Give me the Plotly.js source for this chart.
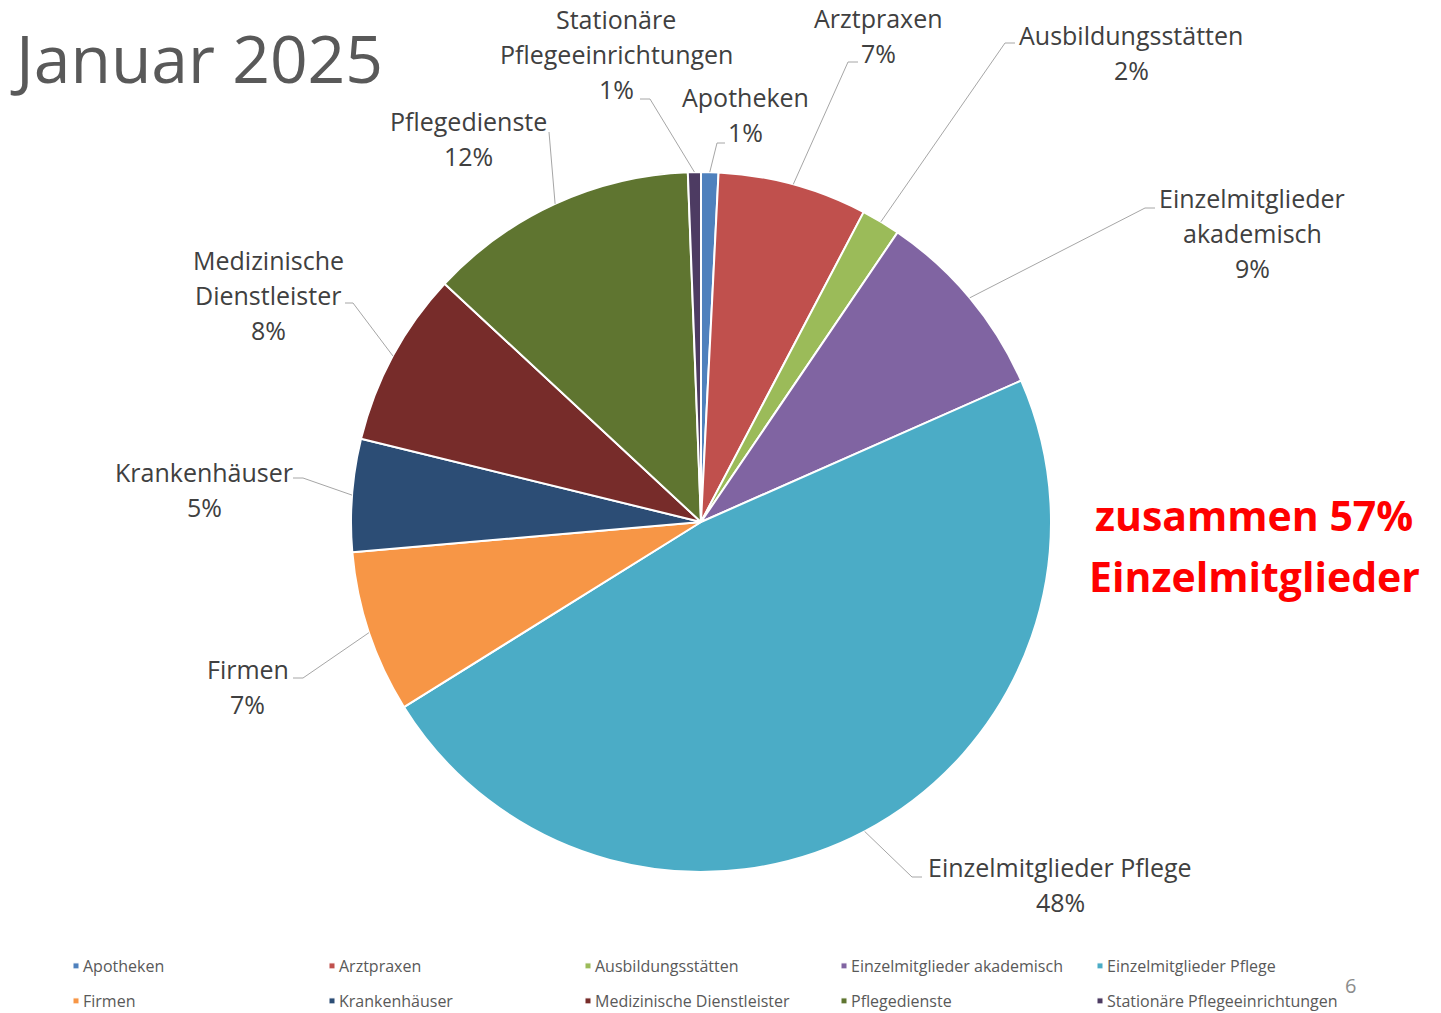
<!DOCTYPE html>
<html><head><meta charset="utf-8">
<script src="https://cdn.plot.ly/plotly-3.0.1.min.js"></script>
<style>html,body{margin:0;padding:0;background:#fff;overflow:hidden;}</style>
</head><body>
<div id="chart" style="width:1441px;height:1013px;"></div>
<script>
// ---- data ----
const categories = ["Apotheken","Arztpraxen","Ausbildungsstätten","Einzelmitglieder akademisch","Einzelmitglieder Pflege","Firmen","Krankenhäuser","Medizinische Dienstleister","Pflegedienste","Stationäre Pflegeeinrichtungen"];
const values = [0.8, 6.9, 1.8, 8.9, 47.8, 7.5, 5.2, 8.1, 12.5, 0.6];
const colors = ["#4F81BD","#C0504D","#9BBB59","#8064A2","#4BACC6","#F79646","#2C4D75","#772C2A","#5F7530","#4D3B62"];
const titleText = "Januar 2025";
const highlightCats = ["Einzelmitglieder akademisch","Einzelmitglieder Pflege"];
const highlightWord = "Einzelmitglieder";
const pageNumber = "6";
const wrapCats = ["Stationäre Pflegeeinrichtungen","Medizinische Dienstleister","Einzelmitglieder akademisch"];

// ---- layout (pixel positions) ----
const W = 1441, H = 1013;
const CX = 701, CY = 522, R = 350;
const labelX = [746, 878, 1131, 1252, 1060, 248, 204, 268, 468, 616];
const labelY = [97, 18, 35, 198, 867, 669, 472, 260, 121, 19];
const lineGap = 35;
const leaderStart = [[725,143],[858,62],[1015,43],[1155,208],[922,877],[293,678],[293,478],[345,303],[549,132],[640,99]];
const leaderElbow = [[717,143],[848,62],[1005,43],[1145,208],[912,877],[303,678],[303,478],[353,303],[549,132],[650,99]];

const px = x => x / W;
const py = y => 1 - y / H;

const total = values.reduce((a,b)=>a+b,0);
const annotations = [];
const shapes = [];
let cum = 0;
categories.forEach((c,i)=>{
  const mid = (cum + values[i]/2) / total * 2 * Math.PI;
  cum += values[i];
  const tx = CX + R*Math.sin(mid), ty = CY - R*Math.cos(mid);
  const pct = Math.round(values[i]/total*100) + "%";
  const lines = (wrapCats.includes(c) ? c.split(" ") : [c]).concat([pct]);
  lines.forEach((t,k)=>{
    annotations.push({text:t, xref:'paper', yref:'paper', x:px(labelX[i]), y:py(labelY[i]+k*lineGap),
      xanchor:'center', yanchor:'middle', showarrow:false,
      font:{family:'Open Sans, sans-serif', size:25, color:'#404040'}});
  });
  const s = leaderStart[i], e = leaderElbow[i];
  shapes.push({type:'path', xref:'paper', yref:'paper',
    path:`M${px(s[0])},${py(s[1])} L${px(e[0])},${py(e[1])} L${px(tx)},${py(ty)}`,
    line:{color:'#A6A6A6', width:1}});
});

const hiPct = Math.round(categories.reduce((a,c,i)=>a+(highlightCats.includes(c)?values[i]:0),0)/total*100);
annotations.push({text:titleText, xref:'paper', yref:'paper', x:px(8), y:py(57), xanchor:'left', yanchor:'middle', showarrow:false,
  font:{family:'Open Sans, sans-serif', size:66, color:'#595959'}});
annotations.push({text:"zusammen " + hiPct + "%", xref:'paper', yref:'paper', x:px(1254), y:py(515), xanchor:'center', yanchor:'middle', showarrow:false,
  font:{family:'Open Sans, sans-serif', size:41, color:'#FF0000', weight:700}});
annotations.push({text:highlightWord, xref:'paper', yref:'paper', x:px(1254), y:py(576), xanchor:'center', yanchor:'middle', showarrow:false,
  font:{family:'Open Sans, sans-serif', size:41, color:'#FF0000', weight:700}});
annotations.push({text:pageNumber, xref:'paper', yref:'paper', x:px(1350), y:py(985), xanchor:'center', yanchor:'middle', showarrow:false,
  font:{family:'Open Sans, sans-serif', size:20, color:'#8C8C8C'}});

const trace = {
  type:'pie', labels:categories, values:values, sort:false, direction:'clockwise', rotation:0,
  marker:{colors:colors, line:{color:'#FFFFFF', width:2}},
  textinfo:'none', hoverinfo:'label+percent',
  domain:{x:[px(CX-R), px(CX+R)], y:[py(CY+R), py(CY-R)]}
};

const layout = {
  width:W, height:H, margin:{l:0,r:0,t:0,b:0,autoexpand:false},
  paper_bgcolor:'#FFFFFF', plot_bgcolor:'#FFFFFF',
  showlegend:true,
  legend:{orientation:'h', x:px(43), y:py(949), xanchor:'left', yanchor:'top',
    entrywidth:211, entrywidthmode:'pixels', traceorder:'normal',
    font:{family:'Open Sans, sans-serif', size:16, color:'#595959'}, bgcolor:'rgba(0,0,0,0)'},
  annotations:annotations, shapes:shapes
};

Plotly.newPlot('chart', [trace], layout, {displayModeBar:false}).then(()=>{
  document.querySelectorAll('.legend [clip-path]').forEach(el=>el.removeAttribute('clip-path'));
  const pts = document.querySelectorAll('.legend .legendpoints path');
  pts.forEach(p=>p.setAttribute('transform','translate(33,0) scale(0.5)'));
  const tr = Array.from(document.querySelectorAll('.legend .traces'));
  const ys = tr.map(t=>{const m=/translate\(([-\d.]+),\s*([-\d.]+)\)/.exec(t.getAttribute('transform'));return m?[+m[1],+m[2]]:[0,0];});
  const minY = Math.min(...ys.map(v=>v[1]));
  const rowH = Math.min(...ys.map(v=>v[1]).filter(v=>v>minY+1)) - minY;
  const target = 35;
  tr.forEach((t,i)=>{ if (ys[i][1] > minY + 1) t.setAttribute('transform',`translate(${ys[i][0]},${minY + Math.round((ys[i][1]-minY)/rowH)*target})`); });
});
</script>
</body></html>
